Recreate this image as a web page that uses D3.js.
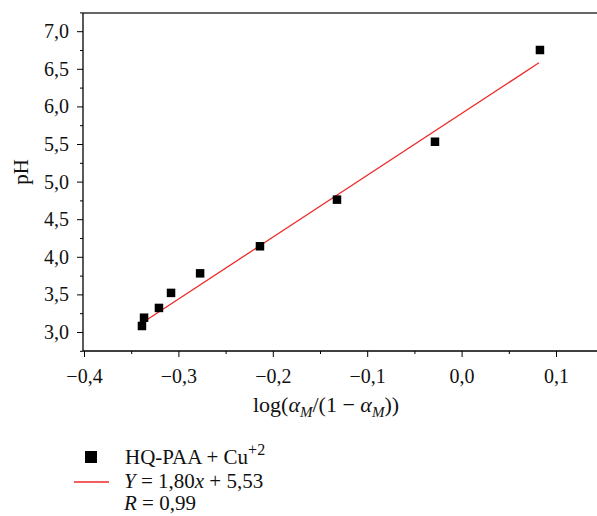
<!DOCTYPE html>
<html><head><meta charset="utf-8">
<script src="https://cdn.jsdelivr.net/npm/d3@7"></script>
<style>
body{margin:0;background:#fff;}
svg{display:block;}
</style></head>
<body><svg id="c" width="597" height="516"></svg>
<script>
// Data
const xValues = [-0.3386, -0.3364, -0.3206, -0.3078, -0.2770, -0.2136, -0.1320, -0.0282, 0.0830];
const pHValues = [3.08, 3.19, 3.32, 3.52, 3.78, 4.14, 4.76, 5.53, 6.75];
const fitX = [-0.3386, 0.0820];
const fitY = [3.12, 6.58];
const xTicks = [-0.4, -0.3, -0.2, -0.1, 0.0, 0.1];
const yTicks = [3.0, 3.5, 4.0, 4.5, 5.0, 5.5, 6.0, 6.5, 7.0];
const xMinor = [-0.35, -0.25, -0.15, -0.05, 0.05];
const yMinor = [2.75, 3.25, 3.75, 4.25, 4.75, 5.25, 5.75, 6.25, 6.75, 7.25];

const FF = "Liberation Serif, DejaVu Serif, serif";
const svg = d3.select("#c").attr("font-family", FF);
const L = 83, R = 597, T = 13, B = 351;
const x = d3.scaleLinear().domain([-0.4, 0.1]).range([84, 556]);
const y = d3.scaleLinear().domain([3.0, 7.0]).range([332, 31.2]);
const fmt = v => d3.format(".1f")(v).replace("-", "\u2212").replace(".", ",");

// frame top line
svg.append("line").attr("x1", L).attr("x2", R).attr("y1", T).attr("y2", T)
  .attr("stroke", "#333").attr("stroke-width", 1.3);

function styleAxis(g) {
  g.attr("font-family", FF).attr("font-size", 20);
  g.select(".domain").remove();
  g.selectAll(".tick line").attr("stroke", "#000");
  g.selectAll(".tick text").attr("fill", "#111").attr("font-size", 20).attr("font-family", FF);
}

// x axis
const xa = svg.append("g").attr("transform", `translate(0,${B})`)
  .call(d3.axisBottom(x).tickValues(xTicks).tickSize(6).tickPadding(12).tickFormat(fmt))
  .call(styleAxis);
xa.append("line").attr("x1", L).attr("x2", R).attr("stroke", "#000").attr("stroke-width", 1.3);
svg.append("g").attr("transform", `translate(0,${B})`)
  .call(d3.axisBottom(x).tickValues(xMinor).tickSize(3).tickFormat(""))
  .call(styleAxis);

// y axis
const ya = svg.append("g").attr("transform", `translate(${L},0)`)
  .call(d3.axisLeft(y).tickValues(yTicks).tickSize(6).tickPadding(8).tickFormat(fmt))
  .call(styleAxis);
ya.append("line").attr("y1", T).attr("y2", B).attr("stroke", "#000").attr("stroke-width", 1.3);
svg.append("g").attr("transform", `translate(${L},0)`)
  .call(d3.axisLeft(y).tickValues(yMinor).tickSize(3).tickFormat(""))
  .call(styleAxis);

// axis titles
svg.append("text").attr("transform", "translate(28,172) rotate(-90)")
  .attr("text-anchor", "middle").attr("font-size", 21).attr("fill", "#111").text("pH");

const xt = svg.append("text").attr("x", 326).attr("y", 412).attr("text-anchor", "middle")
  .attr("font-size", 22).attr("fill", "#111");
xt.append("tspan").text("log(");
xt.append("tspan").attr("font-style", "italic").text("α");
xt.append("tspan").attr("font-style", "italic").attr("font-size", 15).attr("dy", 5).text("M");
xt.append("tspan").attr("dy", -5).text("/(1 \u2212 ");
xt.append("tspan").attr("font-style", "italic").text("α");
xt.append("tspan").attr("font-style", "italic").attr("font-size", 15).attr("dy", 5).text("M");
xt.append("tspan").attr("dy", -5).text("))");

// fit line
svg.append("line").attr("x1", x(fitX[0])).attr("y1", y(fitY[0]))
  .attr("x2", x(fitX[1])).attr("y2", y(fitY[1]))
  .attr("stroke", "#ee2a2a").attr("stroke-width", 1.3);

// points
const s = 8.5;
svg.selectAll("rect.pt").data(xValues).enter().append("rect").attr("class", "pt")
  .attr("x", (d) => x(d) - s / 2).attr("y", (d, i) => y(pHValues[i]) - s / 2)
  .attr("width", s).attr("height", s).attr("fill", "#000");

// legend
svg.append("rect").attr("x", 85).attr("y", 451).attr("width", 12).attr("height", 12).attr("fill", "#000");
const l1 = svg.append("text").attr("x", 125).attr("y", 464).attr("font-size", 21).attr("fill", "#111");
l1.append("tspan").text("HQ-PAA + Cu");
l1.append("tspan").attr("font-size", 16).attr("dy", -9).text("+2");

svg.append("line").attr("x1", 74).attr("x2", 109).attr("y1", 482).attr("y2", 482)
  .attr("stroke", "#ee2a2a").attr("stroke-width", 1.3);
const l2 = svg.append("text").attr("x", 124).attr("y", 488).attr("font-size", 21).attr("fill", "#111");
l2.append("tspan").attr("font-style", "italic").text("Y");
l2.append("tspan").text(" = 1,80");
l2.append("tspan").attr("font-style", "italic").text("x");
l2.append("tspan").text(" + 5,53");
const l3 = svg.append("text").attr("x", 124).attr("y", 510).attr("font-size", 21).attr("fill", "#111");
l3.append("tspan").attr("font-style", "italic").text("R");
l3.append("tspan").text(" = 0,99");
</script></body></html>
